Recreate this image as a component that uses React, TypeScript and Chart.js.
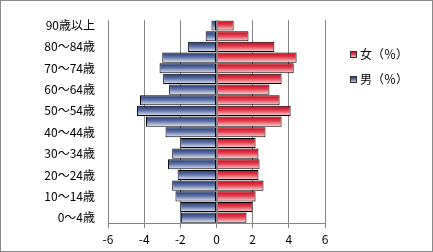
import React, { useEffect, useRef } from 'react';
import { Chart, registerables } from 'chart.js';

Chart.register(...registerables);

const categories = [
  '0～4歳', '5～9歳', '10～14歳', '15～19歳', '20～24歳', '25～29歳', '30～34歳',
  '35～39歳', '40～44歳', '45～49歳', '50～54歳', '55～59歳', '60～64歳', '65～69歳',
  '70～74歳', '75～79歳', '80～84歳', '85～89歳', '90歳以上',
];
const maleValues = [
  -1.97, -2.0, -2.27, -2.45, -2.15, -2.68, -2.45, -2.0, -2.82, -3.9,
  -4.4, -4.23, -2.62, -2.95, -3.15, -3.0, -1.57, -0.6, -0.28,
];
const femaleValues = [
  1.66, 1.99, 2.16, 2.6, 2.32, 2.38, 2.32, 2.16, 2.71, 3.6,
  4.1, 3.49, 2.93, 3.6, 4.27, 4.43, 3.2, 1.77, 0.95,
];
const seriesNames = ['女（％）', '男（％）'];
const xMin = -6;
const xMax = 6;
const xStep = 2;

const FONT = '"Noto Sans CJK JP", "Noto Sans", sans-serif';
const BLUE_STOPS: [number, string][] = [[0, '#1e356c'], [0.45, '#5d70a6'], [1, '#e6eaf5']];
const RED_STOPS: [number, string][] = [[0, '#cc0018'], [0.45, '#e0404e'], [1, '#f9dade']];
const BAR_PCT = 0.95;

function makeGradient(ctx: CanvasRenderingContext2D, y0: number, y1: number, stops: [number, string][]) {
  const g = ctx.createLinearGradient(0, y0, 0, y1);
  stops.forEach(([o, c]) => g.addColorStop(o, c));
  return g;
}

function barFill(stops: [number, string][]) {
  return (c: any) => {
    const chart = c.chart;
    const y = chart.scales && chart.scales.y;
    if (!y || c.type !== 'data' || !y.height) return stops[1][1];
    const center = y.getPixelForValue(c.dataIndex);
    const h = (y.height / categories.length) * BAR_PCT;
    return makeGradient(chart.ctx, center - h / 2, center + h / 2, stops);
  };
}

const backgroundPlugin = {
  id: 'bgBorder',
  beforeDraw(chart: any) {
    const { ctx, width, height } = chart;
    ctx.save();
    ctx.fillStyle = '#ffffff';
    ctx.fillRect(0, 0, width, height);
    ctx.strokeStyle = '#898989';
    ctx.lineWidth = 1;
    ctx.strokeRect(0.5, 0.5, width - 1, height - 1);
    ctx.restore();
  },
};

const zeroLinePlugin = {
  id: 'zeroLine',
  afterDatasetsDraw(chart: any) {
    const { ctx, chartArea, scales } = chart;
    const x = Math.round(scales.x.getPixelForValue(0)) + 0.5;
    ctx.save();
    ctx.strokeStyle = '#868686';
    ctx.lineWidth = 1;
    ctx.beginPath();
    ctx.moveTo(x, chartArea.top);
    ctx.lineTo(x, chartArea.bottom);
    ctx.stroke();
    ctx.restore();
  },
};

const legendPlugin = {
  id: 'customLegend',
  afterDraw(chart: any) {
    const { ctx } = chart;
    const items = [
      { text: seriesNames[0], stops: RED_STOPS, cy: 54 },
      { text: seriesNames[1], stops: BLUE_STOPS, cy: 79 },
    ];
    ctx.save();
    ctx.font = `12px ${FONT}`;
    ctx.textBaseline = 'middle';
    ctx.textAlign = 'left';
    items.forEach((it) => {
      const bx = 350;
      const by = it.cy - 3;
      ctx.fillStyle = makeGradient(ctx, by, by + 7, it.stops);
      ctx.fillRect(bx, by, 7, 7);
      ctx.strokeStyle = '#303030';
      ctx.lineWidth = 1;
      ctx.strokeRect(bx + 0.5, by + 0.5, 6, 6);
      ctx.fillStyle = '#000000';
      ctx.fillText(it.text, 360, it.cy + 0.5);
    });
    ctx.restore();
  },
};

export default function App() {
  const canvasRef = useRef<HTMLCanvasElement | null>(null);

  useEffect(() => {
    const canvas = canvasRef.current;
    if (!canvas) return;
    const chart = new Chart(canvas, {
      type: 'bar',
      data: {
        labels: categories,
        datasets: [
          {
            label: seriesNames[1],
            data: maleValues,
            backgroundColor: barFill(BLUE_STOPS) as any,
            borderColor: '#000000',
            borderWidth: 1,
            borderSkipped: false,
            barPercentage: BAR_PCT,
            categoryPercentage: 1,
          },
          {
            label: seriesNames[0],
            data: femaleValues,
            backgroundColor: barFill(RED_STOPS) as any,
            borderColor: '#000000',
            borderWidth: 1,
            borderSkipped: false,
            barPercentage: BAR_PCT,
            categoryPercentage: 1,
          },
        ],
      },
      options: {
        indexAxis: 'y',
        responsive: false,
        animation: false,
        devicePixelRatio: 1,
        layout: { padding: { left: 0, top: 15, right: 108, bottom: 0 } },
        plugins: {
          legend: { display: false },
          tooltip: { enabled: false },
        },
        scales: {
          x: {
            type: 'linear',
            min: xMin,
            max: xMax,
            stacked: true,
            ticks: {
              stepSize: xStep,
              color: '#000000',
              font: { family: FONT, size: 12 },
              padding: 4,
            },
            grid: {
              color: '#868686',
              tickColor: '#868686',
              tickLength: 5,
              drawTicks: true,
            },
            border: { display: true, color: '#868686' },
            afterFit: (s: any) => {
              s.height = 29;
            },
          },
          y: {
            type: 'category',
            reverse: true,
            stacked: true,
            offset: true,
            grid: { display: false, drawTicks: false },
            border: { display: false },
            ticks: {
              autoSkip: false,
              padding: 13,
              color: '#000000',
              font: { family: FONT, size: 12 },
              callback: (value: any) => {
                const i = Number(value);
                return i % 2 === 0 ? categories[i] : '';
              },
            },
            afterFit: (s: any) => {
              s.width = 108;
            },
          },
        },
      } as any,
      plugins: [backgroundPlugin, zeroLinePlugin, legendPlugin],
    });
    return () => chart.destroy();
  }, []);

  return (
    <div style={{ position: 'absolute', left: 0, top: 0, width: 433, height: 252 }}>
      <canvas ref={canvasRef} width={433} height={252} style={{ display: 'block', width: 433, height: 252 }} />
    </div>
  );
}
